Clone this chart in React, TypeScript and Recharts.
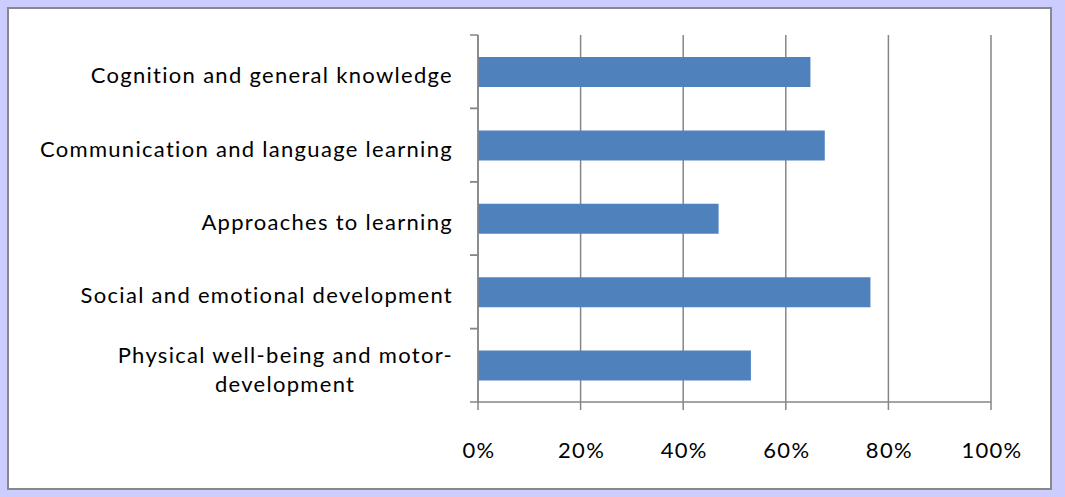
import React from 'react';
import { BarChart, Bar, XAxis, YAxis, CartesianGrid } from 'recharts';

const categories = [
  'Cognition and general knowledge',
  'Communication and language learning',
  'Approaches to learning',
  'Social and emotional development',
  'Physical well-being and motor-development',
];
const shares = [64.8, 67.6, 46.9, 76.5, 53.2];
const xTicks = [0, 20, 40, 60, 80, 100];

const data = categories.map((category, i) => ({ category, share: shares[i] }));

const W = 1065;
const H = 497;
const PLOT_LEFT = 478;
const PLOT_TOP = 35;
const PLOT_BOTTOM = 402;
const PLOT_RIGHT = 991;
const X_AXIS_H = 40;
const AXIS = '#868686';
const FONT = 'Lato, "Open Sans", sans-serif';
const FONT_SIZE = 22;
const SPACING = 1.3;

const measure = (text: string) => {
  const ctx = document.createElement('canvas').getContext('2d');
  if (!ctx) return text.length * FONT_SIZE * 0.55;
  ctx.font = `${FONT_SIZE}px Lato`;
  return ctx.measureText(text).width + text.length * SPACING;
};

const CategoryTick = (props: any) => {
  const { y, payload } = props;
  const half = payload.offset || (PLOT_BOTTOM - PLOT_TOP) / categories.length / 2;
  const right = PLOT_LEFT - 25;
  const label: string = payload.value;
  const cut = label.indexOf('motor-');
  const textProps = { fill: '#000', fontSize: FONT_SIZE, letterSpacing: SPACING, dominantBaseline: 'central' as const };
  let text;
  if (cut > 0) {
    const first = label.slice(0, cut + 6);
    const second = label.slice(cut + 6);
    const mid = right - measure(first) / 2;
    text = (
      <g>
        <text x={right} y={y - 11} textAnchor="end" {...textProps}>{first}</text>
        <text x={mid} y={y + 18} textAnchor="middle" {...textProps}>{second}</text>
      </g>
    );
  } else {
    text = (
      <text x={right} y={y + 3} textAnchor="end" {...textProps}>{label}</text>
    );
  }
  return (
    <g>
      <line x1={PLOT_LEFT - 8} x2={PLOT_LEFT} y1={y - half} y2={y - half} stroke={AXIS} strokeWidth={1.5} />
      <line x1={PLOT_LEFT - 8} x2={PLOT_LEFT} y1={y + half} y2={y + half} stroke={AXIS} strokeWidth={1.5} />
      {text}
    </g>
  );
};

const PercentTick = (props: any) => {
  const { x, payload } = props;
  return (
    <text x={x + 1} y={449} textAnchor="middle" dominantBaseline="central" fill="#000" fontSize={FONT_SIZE} letterSpacing={SPACING}>
      {`${payload.value}%`}
    </text>
  );
};

export default function App() {
  return (
    <div style={{ position: 'absolute', left: 0, top: 0, width: W, height: H, background: '#CCCCFF', fontFamily: FONT }}>
      <div
        style={{
          position: 'absolute',
          left: 7,
          top: 7,
          width: 1045,
          height: 483,
          boxSizing: 'border-box',
          background: '#fff',
          border: '2px solid #888',
        }}
      />
      <div style={{ position: 'absolute', left: 0, top: 0 }}>
        <BarChart
          width={W}
          height={H}
          data={data}
          layout="vertical"
          margin={{ top: PLOT_TOP, right: W - PLOT_RIGHT, bottom: H - PLOT_BOTTOM - X_AXIS_H, left: 0 }}
          style={{ fontFamily: FONT }}
        >
          <CartesianGrid horizontal={false} stroke={AXIS} strokeWidth={1.5} />
          <XAxis
            type="number"
            domain={[0, 100]}
            ticks={xTicks}
            height={X_AXIS_H}
            axisLine={{ stroke: AXIS, strokeWidth: 1.5 }}
            tickLine={{ stroke: AXIS, strokeWidth: 1.5 }}
            tickSize={8}
            tick={<PercentTick />}
            interval={0}
          />
          <YAxis
            type="category"
            dataKey="category"
            width={PLOT_LEFT}
            axisLine={{ stroke: AXIS, strokeWidth: 1.5 }}
            tickLine={false}
            tick={<CategoryTick />}
            interval={0}
          />
          <Bar dataKey="share" fill="#4F81BD" barSize={30} isAnimationActive={false} />
        </BarChart>
      </div>
    </div>
  );
}
